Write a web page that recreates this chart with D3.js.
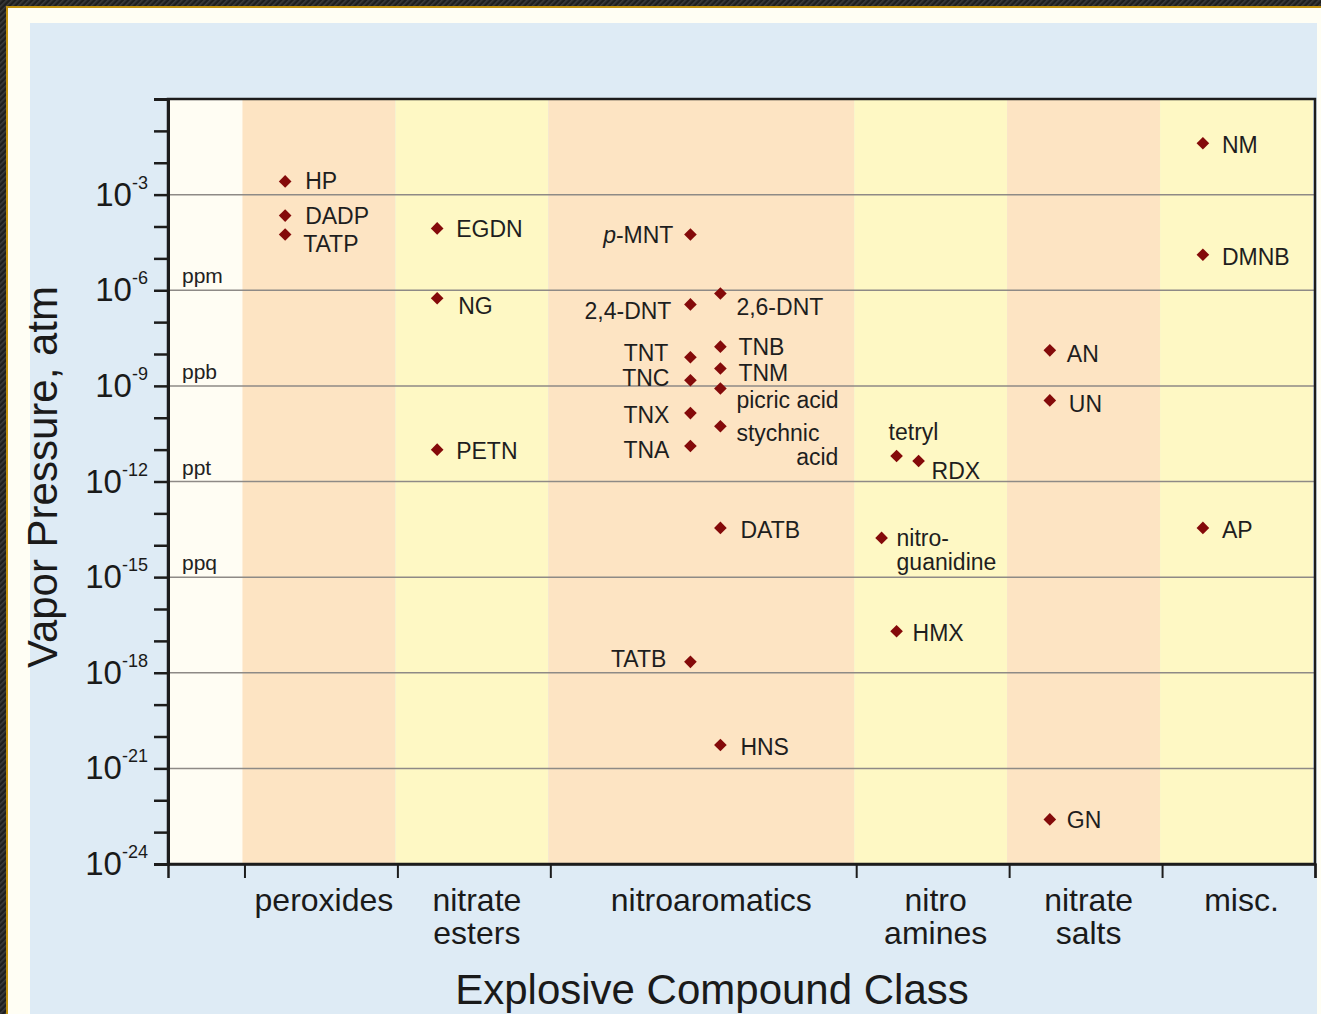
<!DOCTYPE html>
<html>
<head>
<meta charset="utf-8">
<script src="https://cdn.jsdelivr.net/npm/d3@7"></script>
<style>
  html, body { margin: 0; padding: 0; background: #1e1e1e; }
  svg { display: block; font-family: "Liberation Sans", Arial, Helvetica, sans-serif; }
</style>
</head>
<body>
<svg id="chart" width="1321" height="1014"></svg>
<script>
// ---------------- DATA ----------------
const classNames = ["peroxides", "nitrate esters", "nitroaromatics", "nitro amines", "nitrate salts", "misc."];
const classSpans = [1, 1, 2, 1, 1, 1];          // relative widths of class columns
const classTone  = ["orange", "yellow", "orange", "yellow", "orange", "yellow"];

const compounds = ["HP", "DADP", "TATP",
  "EGDN", "NG", "PETN",
  "p-MNT", "2,4-DNT", "2,6-DNT", "TNT", "TNC", "TNX", "TNA", "TNB", "TNM", "picric acid", "stychnic acid", "DATB", "TATB", "HNS",
  "tetryl", "RDX", "nitroguanidine", "HMX",
  "AN", "UN", "GN",
  "NM", "DMNB", "AP"];
const compoundClass = [0, 0, 0,
  1, 1, 1,
  2, 2, 2, 2, 2, 2, 2, 2, 2, 2, 2, 2, 2, 2,
  3, 3, 3, 3,
  4, 4, 4,
  5, 5, 5];
// position inside its class column (fraction of one class unit)
const compoundSlot = [0.266, 0.266, 0.266,
  0.26, 0.26, 0.26,
  0.916, 0.916, 1.112, 0.916, 0.916, 0.916, 0.916, 1.112, 1.112, 1.112, 1.112, 1.112, 0.916, 1.112,
  0.264, 0.408, 0.166, 0.264,
  0.266, 0.266, 0.266,
  0.267, 0.267, 0.267];
// vapor pressure, atm
const vaporPressure = [2.6e-3, 2.2e-4, 5.6e-5,
  8.7e-5, 5.6e-7, 1.0e-11,
  5.6e-5, 3.6e-7, 7.9e-7, 7.9e-9, 1.5e-9, 1.4e-10, 1.3e-11, 1.7e-8, 3.5e-9, 8.3e-10, 5.4e-11, 3.5e-14, 2.2e-18, 5.4e-21,
  6.3e-12, 4.4e-12, 1.7e-14, 2.0e-17,
  1.3e-8, 3.5e-10, 2.5e-23,
  4.1e-2, 1.3e-5, 3.5e-14];

const yExponents = [-3, -6, -9, -12, -15, -18, -21, -24];
const yUnitLabels = [{exp: -6, text: "ppm"}, {exp: -9, text: "ppb"}, {exp: -12, text: "ppt"}, {exp: -15, text: "ppq"}];

const yTitle = "Vapor Pressure, atm";
const xTitle = "Explosive Compound Class";

// ---------------- LABEL LAYOUT (styling) ----------------
// dx, dy (baseline) offsets from diamond, anchor, optional lines
const labelLayout = {
  "HP": [20, 8, "start"], "DADP": [20, 8, "start"], "TATP": [18, 17, "start"],
  "EGDN": [19, 9, "start"], "NG": [21, 16, "start"], "PETN": [19, 9, "start"],
  "p-MNT": [-17, 8, "end"], "2,4-DNT": [-19, 15, "end"], "2,6-DNT": [16, 21, "start"],
  "TNT": [-22, 4, "end"], "TNC": [-21, 6, "end"], "TNX": [-21, 10, "end"], "TNA": [-21, 12, "end"],
  "TNB": [18, 8, "start"], "TNM": [18, 12, "start"], "picric acid": [16, 20, "start"],
  "stychnic acid": [16, 15, "start", ["stychnic", "acid"]],
  "DATB": [20, 10, "start"], "TATB": [-24, 5, "end"], "HNS": [20, 10, "start"],
  "tetryl": [-8, -16, "start"], "RDX": [13, 18, "start"],
  "nitroguanidine": [15, 8, "start", ["nitro-", "guanidine"]], "HMX": [16, 10, "start"],
  "AN": [17, 12, "start"], "UN": [19, 12, "start"], "GN": [17, 9, "start"],
  "NM": [19, 10, "start"], "DMNB": [19, 10, "start"], "AP": [19, 10, "start"]
};
const classLabelShift = [3, 3, 8, 3, 3, 3];

// ---------------- DRAW ----------------
const svg = d3.select("#chart");
const W = 1321, H = 1014;
const plot = {left: 168, top: 99, right: 1315, bottom: 864};
const colors = {orange: "#fde4c3", yellow: "#fef8c4", blank: "#fffdf3", blue: "#deebf5", cream: "#fffef4",
  point: "#840a0a", grid: "#8e8a86", ink: "#1c1c1c"};

// frame / background decorations
const defs = svg.append("defs");
const pat = defs.append("pattern").attr("id", "hatch").attr("width", 4).attr("height", 4)
  .attr("patternUnits", "userSpaceOnUse").attr("patternTransform", "rotate(45)");
pat.append("rect").attr("width", 4).attr("height", 4).attr("fill", "#1d1d1d");
pat.append("rect").attr("width", 1.6).attr("height", 4).attr("fill", "#3b3b3b");
svg.append("rect").attr("width", W).attr("height", H).attr("fill", "url(#hatch)");
svg.append("rect").attr("x", 7).attr("y", 7).attr("width", W).attr("height", H)
  .attr("fill", colors.cream).attr("stroke", "#c0900e").attr("stroke-width", 2);
svg.append("rect").attr("x", 30).attr("y", 23).attr("width", 1287).attr("height", H)
  .attr("fill", colors.blue);

// scales
const totalUnits = 0.5 + d3.sum(classSpans);
const x = d3.scaleLinear().domain([0, totalUnits]).range([plot.left, plot.right]);
const y = d3.scaleLog().domain([1e-24, 1]).range([plot.bottom, plot.top]);

const classStart = [];
let acc = 0.5;
classSpans.forEach(s => { classStart.push(acc); acc += s; });

// bands
svg.append("rect").attr("x", x(0)).attr("y", plot.top)
  .attr("width", x(0.5) - x(0)).attr("height", plot.bottom - plot.top).attr("fill", colors.blank);
svg.append("g").selectAll("rect").data(classNames).join("rect")
  .attr("x", (d, i) => x(classStart[i]) - 2)
  .attr("y", plot.top)
  .attr("width", (d, i) => x(classStart[i] + classSpans[i]) - x(classStart[i]))
  .attr("height", plot.bottom - plot.top)
  .attr("fill", (d, i) => colors[classTone[i]]);

// gridlines
const gridExps = yExponents.filter(e => e > -24);
svg.append("g").selectAll("line").data(gridExps).join("line")
  .attr("x1", plot.left).attr("x2", plot.right)
  .attr("y1", e => y(Math.pow(10, e))).attr("y2", e => y(Math.pow(10, e)))
  .attr("stroke", colors.grid).attr("stroke-width", 1.5);

// unit labels (ppm, ppb ...)
svg.append("g").selectAll("text").data(yUnitLabels).join("text")
  .attr("x", plot.left + 14).attr("y", d => y(Math.pow(10, d.exp)) - 7)
  .attr("font-size", 21).attr("fill", "#222").text(d => d.text);

// frame
svg.append("rect").attr("x", plot.left).attr("y", plot.top)
  .attr("width", plot.right - plot.left).attr("height", plot.bottom - plot.top)
  .attr("fill", "none").attr("stroke", colors.ink).attr("stroke-width", 2.5);

// y axis
const decadeTicks = d3.range(-24, 0).map(e => Math.pow(10, e));
const yAxis = d3.axisLeft(y).tickValues(decadeTicks).tickSize(14).tickFormat("");
const gy = svg.append("g").attr("transform", `translate(${plot.left},0)`).call(yAxis);
gy.select(".domain").attr("stroke", colors.ink).attr("stroke-width", 3);
gy.selectAll(".tick line").attr("stroke", colors.ink).attr("stroke-width", 2.5);

const yl = svg.append("g").selectAll("text").data(yExponents).join("text")
  .attr("x", 148).attr("y", e => y(Math.pow(10, e)) + 11)
  .attr("text-anchor", "end").attr("fill", "#1a1a1a");
yl.append("tspan").attr("font-size", 33).text("10");
yl.append("tspan").attr("font-size", 18).attr("dy", -17).text(e => String(e));

// x axis
const xBoundaries = classStart.concat([totalUnits]);
const xAxis = d3.axisBottom(x).tickValues(xBoundaries).tickSize(14).tickFormat("");
const gx = svg.append("g").attr("transform", `translate(0,${plot.bottom})`).call(xAxis);
gx.select(".domain").attr("stroke", colors.ink).attr("stroke-width", 2.5);
gx.selectAll(".tick line").attr("stroke", colors.ink).attr("stroke-width", 2);

const cl = svg.append("g").selectAll("text").data(classNames).join("text")
  .attr("text-anchor", "middle").attr("font-size", 32).attr("fill", "#1a1a1a")
  .attr("x", (d, i) => x(classStart[i] + classSpans[i] / 2) + classLabelShift[i])
  .attr("y", 911);
cl.each(function(d) {
  const parts = d.split(" ");
  const t = d3.select(this);
  parts.forEach((p, k) => {
    t.append("tspan").attr("x", t.attr("x")).attr("dy", k === 0 ? 0 : 33).text(p);
  });
});

// titles
svg.append("text").attr("transform", "translate(57,477) rotate(-90)")
  .attr("text-anchor", "middle").attr("font-size", 42).attr("fill", "#1a1a1a").text(yTitle);
svg.append("text").attr("x", 712).attr("y", 1004)
  .attr("text-anchor", "middle").attr("font-size", 42).attr("fill", "#1a1a1a").text(xTitle);

// points
const points = compounds.map((name, i) => ({
  name, cls: compoundClass[i], slot: compoundSlot[i], vp: vaporPressure[i]
}));
const px = d => x(classStart[d.cls] + d.slot);
const py = d => y(d.vp);

svg.append("g").selectAll("path").data(points).join("path")
  .attr("d", d3.symbol().type(d3.symbolSquare).size(80))
  .attr("transform", d => `translate(${px(d)},${py(d)}) rotate(45)`)
  .attr("fill", colors.point);

const lab = svg.append("g").selectAll("text").data(points).join("text")
  .attr("font-size", 23).attr("fill", "#1e1e1e")
  .attr("text-anchor", d => labelLayout[d.name][2])
  .attr("x", d => px(d) + labelLayout[d.name][0])
  .attr("y", d => py(d) + labelLayout[d.name][1]);
lab.each(function(d) {
  const t = d3.select(this);
  const lines = labelLayout[d.name][3];
  if (lines) {
    t.append("tspan").attr("x", t.attr("x")).text(lines[0]);
    const second = t.append("tspan").attr("dy", 24).text(lines[1]);
    if (d.name === "stychnic acid") {
      second.attr("x", +t.attr("x") + 102).attr("text-anchor", "end");
    } else {
      second.attr("x", t.attr("x"));
    }
  } else if (d.name.startsWith("p-")) {
    t.append("tspan").attr("font-style", "italic").text("p");
    t.append("tspan").text(d.name.slice(1));
  } else {
    t.text(d.name);
  }
});
</script>
</body>
</html>
